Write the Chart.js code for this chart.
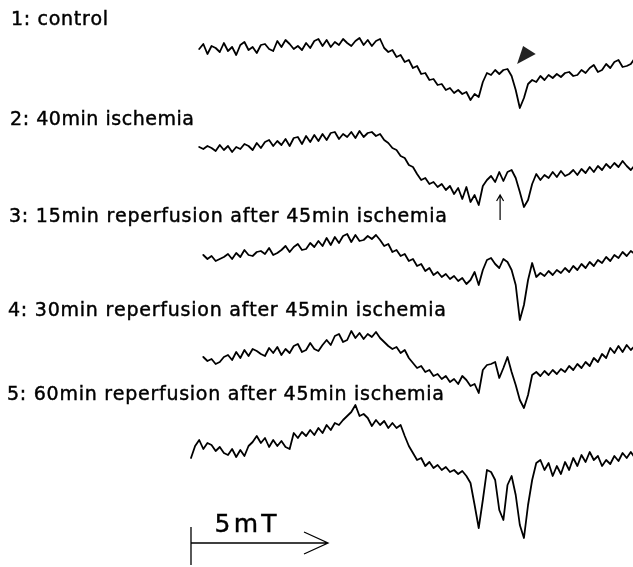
<!DOCTYPE html>
<html>
<head>
<meta charset="utf-8">
<script src="https://cdn.jsdelivr.net/npm/chart.js@4.4.1/dist/chart.umd.min.js"></script>
<style>
  html, body { margin: 0; padding: 0; background: #fff; }
  #wrap { width: 633px; height: 567px; position: relative; }
</style>
</head>
<body>
<div id="wrap"><canvas id="epr"></canvas></div>
<script>
// field sweep in mT, one sample every 0.15 mT
const field = [];
for (let i = 0; i <= 108; i++) field.push(Math.round(i * 15) / 100);

const traceLabels = [
    '1: control',
    '2: 40min ischemia',
    '3: 15min reperfusion after 45min ischemia',
    '4: 30min reperfusion after 45min ischemia',
    '5: 60min reperfusion after 45min ischemia'
];

// EPR signal of each spectrum (arbitrary units)
const control = [null, null,
    -1, 4, -6, 2, 0, -4, 5, -3, 1, -7,
    3, 6, -2, 1, -5, 3, 4, -1, -3, 7,
    1, 8, 4, -1, 2, -2, 5, 0, 7, 9,
    2, 8, 1, 6, 3, 9, 5, 2, 7, 10,
    3, 8, 2, 7, 9, 0,
    -4, -2, -9, -7, -14, -12, -20, -18, -26, -25,
    -32, -31, -37, -36, -42, -40, -45, -42, -46, -44,
    -52, -46, -49, -34, -25, -27, -22, -26, -22, -21,
    -28, -42, -60, -50, -36, -32, -34, -28, -32, -27,
    -30, -26, -29, -25, -24, -28, -27, -22, -25, -20,
    -17, -24, -22, -16, -20, -14, -12, -19, -18, -16,
    -10];

const isch40 = [null, null,
    1, -1, 2, 0, -3, 3, -2, 2, -4, 1,
    -1, 4, 2, -2, 5, 0, 6, 8, 2, 7,
    3, 9, 2, 10, 11, 4, 12, 6, 13, 7,
    14, 8, 15, 16, 9, 14, 11, 16, 10, 17,
    11, 15, 16, 12, 14, 8, 5, 0, -2, -8,
    -10, -17, -19, -26, -32, -30, -36, -34, -39, -36,
    -42, -38, -46, -40, -51, -39, -54, -47, -57, -38,
    -32, -28, -34, -24, -33, -24, -22, -30, -44, -59,
    -52, -36, -26, -32, -27, -30, -24, -29, -23, -28,
    -26, -22, -27, -21, -25, -19, -24, -18, -22, -16,
    -20, -15, -19, -13, -18, -22, -17];

const rep15 = [null, null, null,
    3, -1, 2, -3, -1, 1, 4, -1, 5, 1,
    8, 3, 2, 6, 7, 4, 10, 3, 5, 8,
    12, 6, 11, 14, 8, 9, 15, 11, 17, 12,
    20, 13, 21, 15, 22, 24, 16, 23, 17, 18,
    22, 19, 23, 18, 12, 14, 6, 8, 2, 4,
    -3, -1, -8, -6, -13, -10, -17, -14, -19, -16,
    -21, -18, -23, -20, -26, -22, -14, -27, -12, -2,
    0, -6, -10, -1, -4, -12, -27, -62, -47, -22,
    -5, -19, -15, -18, -13, -17, -12, -15, -10, -14,
    -8, -12, -6, -10, -4, -8, -2, -5, 1, -3,
    3, 0, 6, 2, 7, 4];

const rep30 = [null, null, null,
    3, -1, 1, -4, -2, 3, 5, 0, 8, 2,
    10, 4, 11, 9, 6, 4, 12, 7, 13, 5,
    11, 7, 14, 16, 8, 10, 17, 11, 9, 15,
    20, 15, 24, 26, 18, 20, 29, 22, 27, 21,
    26, 23, 28, 22, 18, 14, 11, 13, 7, 10,
    2, -3, -8, -6, -12, -10, -16, -14, -19, -16,
    -22, -19, -24, -16, -20, -26, -24, -33, -10, -5,
    -4, -2, -18, -8, 3, -12, -25, -40, -48, -35,
    -15, -12, -16, -11, -15, -10, -14, -9, -12, -6,
    -10, -4, -8, -2, -6, 2, -2, 6, 2, 12,
    7, 14, 8, 15, 10, 14];

const rep60 = [
    -8, 4, 10, 1, 7, 5, -1, 3, -3, -5,
    1, -7, 0, -6, 4, 8, 14, 7, 12, 3,
    10, 4, 9, 3, 1, 17, 12, 18, 14, 20,
    15, 22, 17, 25, 20, 27, 25, 30, 34, 38,
    45, 34, 36, 32, 24, 30, 25, 29, 22, 27,
    22, 25, 14, 4, -3, -10, -8, -16, -12, -18,
    -15, -20, -17, -22, -20, -24, -21, -26, -33, -55,
    -78, -50, -20, -22, -30, -60, -70, -35, -26, -45,
    -75, -88, -55, -30, -13, -10, -20, -13, -26, -16,
    -24, -12, -20, -8, -16, -5, -12, -2, -10, -6,
    -16, -10, -14, -6, -11, -3, -8, -2, -8];

// vertical stacking of the spectra
const offsets = [519, 419, 309, 207, 117];

function spacedText(ctx, text, x, y, width) {
    const chars = [...text];
    const natural = chars.reduce((w, c) => w + ctx.measureText(c).width, 0);
    const gap = chars.length > 1 ? (width - natural) / (chars.length - 1) : 0;
    chars.forEach(c => {
        ctx.fillText(c, x, y);
        ctx.strokeText(c, x, y);
        x += ctx.measureText(c).width + gap;
    });
}

const decorations = {
    id: 'decorations',
    afterDraw(chart) {
        const ctx = chart.ctx;
        const xs = chart.scales.x, ys = chart.scales.y;
        ctx.save();
        ctx.fillStyle = '#000';
        ctx.strokeStyle = '#000';

        // spectrum captions
        ctx.font = '19px "DejaVu Sans", sans-serif';
        ctx.lineWidth = 0.45;
        const pos = [[11, 25, 97], [10, 125, 184], [9, 222, 438], [8, 316, 438], [7, 400, 437]];
        traceLabels.forEach((t, k) => spacedText(ctx, t, pos[k][0], pos[k][1], pos[k][2]));

        // filled arrowhead over control spectrum
        ctx.beginPath();
        ctx.moveTo(xs.getPixelForValue(12.12), ys.getPixelForValue(521));
        ctx.lineTo(xs.getPixelForValue(12.58), ys.getPixelForValue(513));
        ctx.lineTo(xs.getPixelForValue(11.90), ys.getPixelForValue(503));
        ctx.closePath();
        ctx.fillStyle = '#222';
        ctx.fill();

        // small arrow under 40min ischemia
        const ax = xs.getPixelForValue(11.28);
        const aTop = ys.getPixelForValue(372), aBot = ys.getPixelForValue(347);
        ctx.lineWidth = 1.2;
        ctx.beginPath();
        ctx.moveTo(ax, aBot);
        ctx.lineTo(ax, aTop);
        ctx.moveTo(ax - 3.5, aTop + 6);
        ctx.lineTo(ax, aTop);
        ctx.lineTo(ax + 3.5, aTop + 6);
        ctx.stroke();

        // 5 mT scale bar
        const x0 = xs.getPixelForValue(0), x5 = xs.getPixelForValue(5);
        const yb = ys.getPixelForValue(24);
        ctx.lineWidth = 1.3;
        ctx.beginPath();
        ctx.moveTo(x0, ys.getPixelForValue(40));
        ctx.lineTo(x0, ys.getPixelForValue(2));
        ctx.moveTo(x0, yb);
        ctx.lineTo(x5, yb);
        ctx.moveTo(x5 - 24, yb - 11);
        ctx.lineTo(x5, yb);
        ctx.lineTo(x5 - 24, yb + 11);
        ctx.stroke();
        ctx.fillStyle = '#000';
        ctx.font = '25px "DejaVu Sans", sans-serif';
        ctx.lineWidth = 0.4;
        spacedText(ctx, '5mT', xs.getPixelForValue(0.86), ys.getPixelForValue(35), 62);
        ctx.restore();
    }
};

window.onload = function() {
    const series = [control, isch40, rep15, rep30, rep60];
    const datasets = series.map((s, k) => ({
        label: traceLabels[k],
        data: field.map((b, i) => ({ x: b, y: s[i] == null ? null : offsets[k] + s[i] })),
        borderColor: '#000',
        borderWidth: 1.8,
        borderJoinStyle: 'round',
        borderCapStyle: 'round',
        pointRadius: 0,
        tension: 0,
        fill: false
    }));

    new Chart(document.getElementById('epr').getContext('2d'), {
        type: 'line',
        data: { datasets: datasets },
        options: {
            responsive: true,
            maintainAspectRatio: false,
            animation: false,
            events: [],
            layout: { padding: 0 },
            plugins: { legend: { display: false }, tooltip: { enabled: false } },
            scales: {
                x: { type: 'linear', min: -6.97, max: 16.13, display: false },
                y: { min: 0, max: 567, display: false }
            }
        },
        plugins: [decorations]
    });
};
</script>
</body>
</html>
